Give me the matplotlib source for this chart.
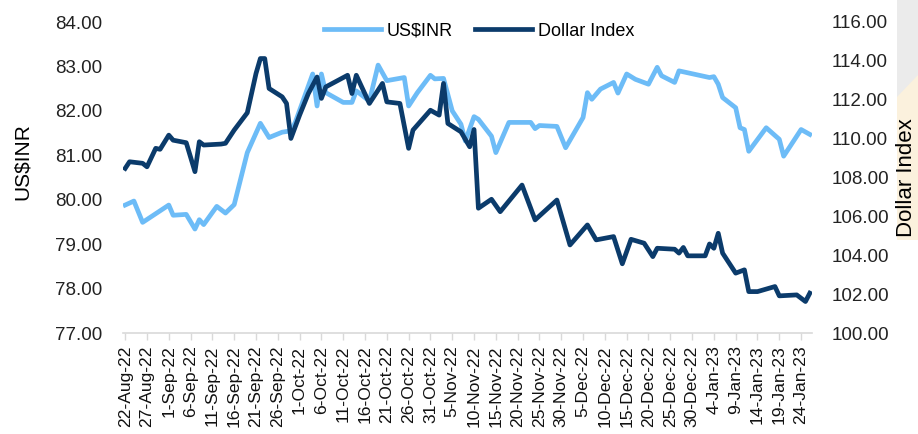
import pandas as pd
import matplotlib
matplotlib.use("Agg")
import matplotlib.pyplot as plt
from matplotlib.patches import Rectangle, Polygon

plt.rcParams['font.family'] = ['Liberation Sans', 'DejaVu Sans']

## US$INR (left axis)
inr_dates = ['2022-08-22', '2022-08-24', '2022-08-26', '2022-09-01', '2022-09-02', '2022-09-05',
             '2022-09-07', '2022-09-08', '2022-09-09', '2022-09-12', '2022-09-14', '2022-09-16',
             '2022-09-19', '2022-09-22', '2022-09-24', '2022-09-27', '2022-09-29', '2022-09-30',
             '2022-10-04', '2022-10-05', '2022-10-06', '2022-10-07', '2022-10-11', '2022-10-13',
             '2022-10-14', '2022-10-17', '2022-10-19', '2022-10-21', '2022-10-25', '2022-10-26',
             '2022-10-28', '2022-10-31', '2022-11-01', '2022-11-03', '2022-11-05', '2022-11-07',
             '2022-11-08', '2022-11-10', '2022-11-11', '2022-11-14', '2022-11-15', '2022-11-18',
             '2022-11-23', '2022-11-24', '2022-11-25', '2022-11-29', '2022-12-01', '2022-12-05',
             '2022-12-06', '2022-12-07', '2022-12-09', '2022-12-12', '2022-12-13', '2022-12-15',
             '2022-12-17', '2022-12-20', '2022-12-22', '2022-12-23', '2022-12-26', '2022-12-27',
             '2023-01-03', '2023-01-04', '2023-01-05', '2023-01-06', '2023-01-09', '2023-01-10',
             '2023-01-11', '2023-01-12', '2023-01-16', '2023-01-19', '2023-01-20', '2023-01-24',
             '2023-01-26']
inr_vals = [79.88, 79.97, 79.49, 79.88, 79.65, 79.67,
            79.34, 79.55, 79.44, 79.85, 79.70, 79.89,
            81.06, 81.72, 81.40, 81.52, 81.55, 81.74,
            82.83, 82.11, 82.83, 82.41, 82.19, 82.19,
            82.45, 82.22, 83.03, 82.68, 82.75, 82.11,
            82.41, 82.80, 82.72, 82.73, 82.00, 81.70,
            81.32, 81.87, 81.81, 81.43, 81.06, 81.74,
            81.74, 81.60, 81.67, 81.65, 81.17, 81.85,
            82.41, 82.26, 82.49, 82.64, 82.40, 82.83,
            82.71, 82.60, 82.98, 82.79, 82.64, 82.90,
            82.75, 82.77, 82.60, 82.30, 82.07, 81.62,
            81.58, 81.09, 81.62, 81.36, 80.98, 81.58,
            81.47]

## Dollar Index (right axis)
dxy_dates = ['2022-08-22', '2022-08-23', '2022-08-26', '2022-08-27', '2022-08-29', '2022-08-30',
             '2022-09-01', '2022-09-02', '2022-09-05', '2022-09-07', '2022-09-08', '2022-09-09',
             '2022-09-13', '2022-09-14', '2022-09-16', '2022-09-19', '2022-09-21', '2022-09-22',
             '2022-09-23', '2022-09-24', '2022-09-27', '2022-09-28', '2022-09-29', '2022-10-01',
             '2022-10-03', '2022-10-05', '2022-10-06', '2022-10-07', '2022-10-12', '2022-10-13',
             '2022-10-14', '2022-10-17', '2022-10-20', '2022-10-21', '2022-10-24', '2022-10-26',
             '2022-10-27', '2022-10-31', '2022-11-02', '2022-11-03', '2022-11-04', '2022-11-07',
             '2022-11-09', '2022-11-10', '2022-11-11', '2022-11-14', '2022-11-16', '2022-11-21',
             '2022-11-24', '2022-11-29', '2022-12-02', '2022-12-06', '2022-12-08', '2022-12-12',
             '2022-12-14', '2022-12-16', '2022-12-19', '2022-12-21', '2022-12-22', '2022-12-26',
             '2022-12-27', '2022-12-28', '2022-12-29', '2023-01-02', '2023-01-03', '2023-01-04',
             '2023-01-05', '2023-01-06', '2023-01-09', '2023-01-11', '2023-01-12', '2023-01-14',
             '2023-01-18', '2023-01-19', '2023-01-23', '2023-01-25', '2023-01-26']
dxy_vals = [108.47, 108.81, 108.73, 108.55, 109.50, 109.45,
            110.18, 109.92, 109.79, 108.30, 109.84, 109.67,
            109.72, 109.76, 110.44, 111.33, 113.35, 114.12,
            114.12, 112.58, 112.15, 111.81, 110.01, 111.21,
            112.32, 113.17, 112.07, 112.66, 113.26, 112.32,
            113.26, 111.81, 112.84, 111.89, 111.81, 109.50,
            110.44, 111.46, 111.21, 112.84, 110.78, 110.35,
            109.58, 110.47, 106.42, 106.88, 106.24, 107.61,
            105.82, 106.84, 104.53, 105.56, 104.79, 104.96,
            103.56, 104.82, 104.62, 103.93, 104.36, 104.31,
            104.11, 104.40, 103.97, 103.97, 104.58, 104.36,
            105.13, 104.11, 103.08, 103.25, 102.13, 102.13,
            102.39, 101.91, 101.96, 101.62, 102.05]

light = '#6DBCF7'
dark = '#0B3B6B'

fig = plt.figure(figsize=(9.18, 4.34), dpi=100)
ax = fig.add_axes([123/918, 1-333/434, 689/918, 311/434])
ax2 = ax.twinx()

x1 = pd.to_datetime(inr_dates)
x2 = pd.to_datetime(dxy_dates)
l1, = ax.plot(x1, inr_vals, color=light, lw=3.4, solid_joinstyle='round', label='US$INR', zorder=2)
l2, = ax2.plot(x2, dxy_vals, color=dark, lw=3.4, solid_joinstyle='round', label='Dollar Index', zorder=3)

ax.set_ylim(77, 84)
ax.set_yticks(range(77, 85))
ax2.set_ylim(100, 116)
ax2.set_yticks(range(100, 117, 2))
ax.yaxis.set_major_formatter(matplotlib.ticker.FormatStrFormatter('%.2f'))
ax2.yaxis.set_major_formatter(matplotlib.ticker.FormatStrFormatter('%.2f'))

start = pd.Timestamp('2022-08-22')
ax.set_xlim(start - pd.Timedelta(hours=12), pd.Timestamp('2023-01-26') + pd.Timedelta(hours=12))
ticks = pd.date_range(start, '2023-01-24', freq='5D')
ax.set_xticks(ticks)
ax.set_xticklabels([f"{t.day}-{t.strftime('%b')}-{t.strftime('%y')}" for t in ticks],
                   rotation=90, fontsize=12.6)
ax.tick_params(axis='x', length=5, color='#D9D9D9', width=1, pad=4, labelcolor='#111111')
ax.tick_params(axis='y', length=0, labelsize=13.5, pad=15, colors='#222222')
ax2.tick_params(axis='y', length=0, labelsize=13.5, pad=14, colors='#222222')

for a in (ax, ax2):
    for s in ('top', 'left', 'right', 'bottom'):
        a.spines[s].set_visible(False)
ax.spines['bottom'].set_visible(True)
ax.spines['bottom'].set_color('#D9D9D9')
ax.spines['bottom'].set_linewidth(1.2)

fig.text(22/918, 1-162/434, 'US$INR', rotation=90, ha='center', va='center', fontsize=15)

# grey panel at the right edge
fig.patches.append(Rectangle((897/918, 1-240/434), 21/918, 240/434, transform=fig.transFigure,
                             facecolor='#EBEBEB', edgecolor='none', zorder=0))
fig.patches.append(Polygon([(897/918, 1-97/434), (1, 1-75/434), (1, 1-240/434), (897/918, 1-240/434)],
                           closed=True, transform=fig.transFigure, facecolor='#FBF1DD',
                           edgecolor='none', zorder=0))
fig.text(906/918, 1-178/434, 'Dollar Index', rotation=90, ha='center', va='center', fontsize=16, zorder=5)

fig.legend(handles=[l1, l2], loc='center', bbox_to_anchor=(479/918, 1-31/434), ncol=2,
           frameon=False, fontsize=13, handlelength=3.2, columnspacing=1.2, handletextpad=0.3)

fig.savefig('out.png', dpi=100)
